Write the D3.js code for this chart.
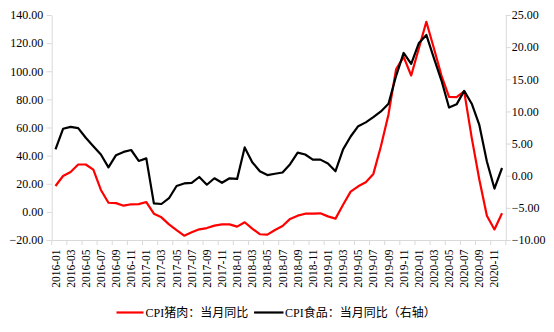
<!DOCTYPE html>
<html>
<head>
<meta charset="utf-8">
<script src="https://cdn.jsdelivr.net/npm/d3@7"></script>
<style>
  html, body { margin: 0; padding: 0; background: #fff; }
  svg { display: block; }
  text { font-family: "Liberation Serif", "Times New Roman", "Noto Sans CJK SC", serif; fill: #000; }
</style>
</head>
<body>
<svg id="chart" width="554" height="332"></svg>
<script>
const months = [
  "2016-01","2016-02","2016-03","2016-04","2016-05","2016-06","2016-07","2016-08","2016-09","2016-10","2016-11","2016-12",
  "2017-01","2017-02","2017-03","2017-04","2017-05","2017-06","2017-07","2017-08","2017-09","2017-10","2017-11","2017-12",
  "2018-01","2018-02","2018-03","2018-04","2018-05","2018-06","2018-07","2018-08","2018-09","2018-10","2018-11","2018-12",
  "2019-01","2019-02","2019-03","2019-04","2019-05","2019-06","2019-07","2019-08","2019-09","2019-10","2019-11","2019-12",
  "2020-01","2020-02","2020-03","2020-04","2020-05","2020-06","2020-07","2020-08","2020-09","2020-10","2020-11","2020-12"
];
const porkYoY = [
  18.4, 25.5, 28.4, 33.7, 33.7, 30.0, 15.6, 6.5, 6.2, 4.4, 5.4, 5.5,
  7.0, -1.3, -3.9, -8.9, -13.0, -16.9, -14.5, -12.4, -11.5, -9.8, -8.9, -8.9,
  -10.5, -7.4, -11.9, -15.9, -16.2, -12.9, -10.0, -5.0, -2.7, -1.3, -1.3, -1.0,
  -3.2, -4.8, 5.1, 14.4, 18.2, 21.1, 27.0, 46.7, 69.3, 101.3, 110.2, 97.0,
  116.0, 135.2, 116.4, 96.9, 81.7, 81.6, 85.7, 52.6, 23.0, -2.8, -12.5, -1.0
];
const foodYoY = [
  4.1, 7.3, 7.6, 7.4, 5.9, 4.6, 3.3, 1.3, 3.2, 3.7, 4.0, 2.3,
  2.7, -4.3, -4.4, -3.5, -1.6, -1.2, -1.1, -0.2, -1.4, -0.4, -1.1, -0.4,
  -0.5, 4.4, 2.1, 0.7, 0.1, 0.3, 0.5, 1.8, 3.6, 3.3, 2.5, 2.5,
  1.9, 0.7, 4.1, 6.1, 7.7, 8.3, 9.1, 10.0, 11.2, 15.5, 19.1, 17.4,
  20.6, 21.9, 18.3, 14.8, 10.6, 11.1, 13.2, 11.2, 7.9, 2.2, -2.0, 1.2
];
const leftTicks = [-20, 0, 20, 40, 60, 80, 100, 120, 140];
const rightTicks = [-10, -5, 0, 5, 10, 15, 20, 25];
const seriesNames = ["CPI猪肉：当月同比", "CPI食品：当月同比（右轴）"];
const seriesColors = ["#ff0000", "#000000"];

const svg = d3.select("#chart");
const plotLeft = 51.7, plotRight = 505.8, plotTop = 15, plotBottom = 240;
const axisColor = "#d9d9d9";

const x = d3.scaleBand().domain(months).range([plotLeft, plotRight]).padding(0);
const yL = d3.scaleLinear().domain([-20, 140]).range([plotBottom, plotTop]);
const yR = d3.scaleLinear().domain([-10, 25]).range([plotBottom, plotTop]);
const fmt = d3.format(".2f");

// Left axis
const gL = svg.append("g").attr("transform", `translate(${plotLeft},0)`)
  .call(d3.axisLeft(yL).tickValues(leftTicks).tickFormat(fmt).tickSize(5).tickSizeOuter(0));
gL.select(".domain").attr("stroke", axisColor);
gL.selectAll(".tick line").attr("stroke", axisColor);
gL.selectAll(".tick text").attr("x", -8.5).style("font-size", "12px")
  .style("font-family", '"Liberation Serif", serif').attr("fill", "#000");

// Right axis
const gR = svg.append("g").attr("transform", `translate(${plotRight},0)`)
  .call(d3.axisRight(yR).tickValues(rightTicks).tickFormat(fmt).tickSize(5).tickSizeOuter(0));
gR.select(".domain").attr("stroke", axisColor);
gR.selectAll(".tick line").attr("stroke", axisColor);
gR.selectAll(".tick text").attr("x", 6).style("font-size", "12px")
  .style("font-family", '"Liberation Serif", serif').attr("fill", "#000");

// Bottom axis
const labelMonths = months.filter((m, i) => i % 2 === 0);
const gB = svg.append("g").attr("transform", `translate(0,${plotBottom})`)
  .call(d3.axisBottom(x).tickValues(labelMonths).tickSize(0).tickSizeOuter(0));
gB.select(".domain").attr("stroke", axisColor);
gB.selectAll(".tick text")
  .attr("transform", "rotate(-90)")
  .attr("x", -9.5).attr("y", 0).attr("dy", "0.35em")
  .attr("text-anchor", "end")
  .style("font-size", "11.5px")
  .style("font-family", '"Liberation Serif", serif').attr("fill", "#000");
// tick marks at band boundaries every 2 months
const tickPos = labelMonths.map(m => x(m)).concat([plotRight]);
gB.selectAll("line.bt").data(tickPos).enter().append("line")
  .attr("class", "bt")
  .attr("x1", d => d).attr("x2", d => d)
  .attr("y1", 0).attr("y2", 5)
  .attr("stroke", axisColor);

// Lines
const cx = m => x(m) + x.bandwidth() / 2;
const lineL = d3.line().x((d, i) => cx(months[i])).y(d => yL(d));
const lineR = d3.line().x((d, i) => cx(months[i])).y(d => yR(d));

svg.append("path").datum(porkYoY).attr("d", lineL)
  .attr("fill", "none").attr("stroke", seriesColors[0]).attr("stroke-width", 2.2)
  .attr("stroke-linejoin", "round");
svg.append("path").datum(foodYoY).attr("d", lineR)
  .attr("fill", "none").attr("stroke", seriesColors[1]).attr("stroke-width", 2.2)
  .attr("stroke-linejoin", "round");

// Legend
const legendY = 312.5;
const legendItems = [
  { x0: 116.5, x1: 143.5, tx: 145.5 },
  { x0: 254, x1: 283.5, tx: 285 }
];
legendItems.forEach((it, k) => {
  svg.append("line").attr("x1", it.x0).attr("x2", it.x1)
    .attr("y1", legendY).attr("y2", legendY)
    .attr("stroke", seriesColors[k]).attr("stroke-width", 2.2);
  svg.append("text").attr("x", it.tx).attr("y", legendY).attr("dy", "0.35em")
    .style("font-size", "12px").text(seriesNames[k]);
});
</script>
</body>
</html>
